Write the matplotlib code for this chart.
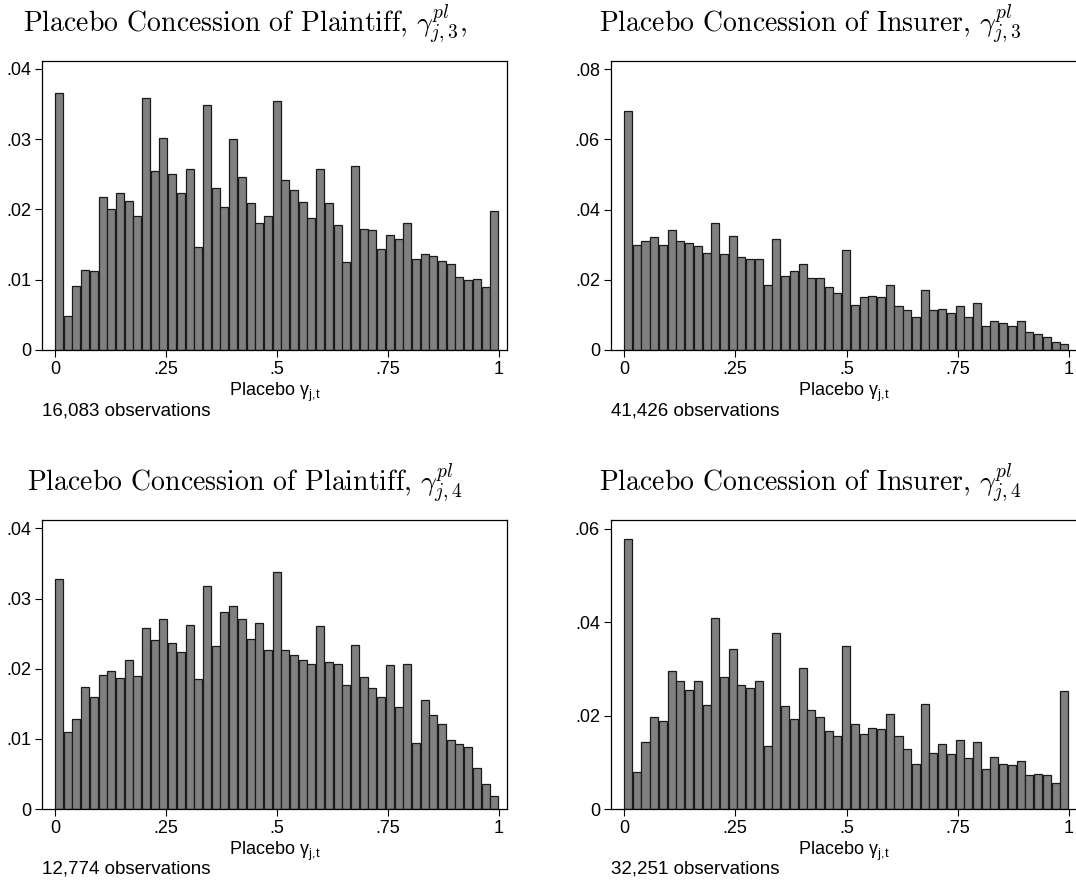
import numpy as np
import matplotlib
matplotlib.use("Agg")
import matplotlib.pyplot as plt

plt.rcParams['font.family'] = ['Liberation Sans', 'DejaVu Sans']
plt.rcParams['mathtext.fontset'] = 'cm'

# Histogram densities, 51 equal bins over [0, 1]
plaintiff_3 = [0.0365, 0.0049, 0.0091, 0.0114, 0.0113, 0.0218, 0.0200, 0.0223, 0.0212, 0.0191,
               0.0358, 0.0255, 0.0302, 0.0250, 0.0223, 0.0258, 0.0147, 0.0348, 0.0230, 0.0203,
               0.0300, 0.0246, 0.0209, 0.0180, 0.0191, 0.0354, 0.0242, 0.0227, 0.0211, 0.0188,
               0.0258, 0.0209, 0.0178, 0.0125, 0.0262, 0.0172, 0.0170, 0.0143, 0.0164, 0.0158,
               0.0181, 0.0130, 0.0137, 0.0133, 0.0127, 0.0122, 0.0104, 0.0099, 0.0101, 0.0090,
               0.0197]
insurer_3 = [0.0681, 0.0299, 0.0311, 0.0323, 0.0298, 0.0343, 0.0309, 0.0305, 0.0297, 0.0277,
             0.0362, 0.0274, 0.0326, 0.0265, 0.0260, 0.0260, 0.0184, 0.0317, 0.0211, 0.0225,
             0.0246, 0.0205, 0.0205, 0.0180, 0.0163, 0.0285, 0.0127, 0.0152, 0.0155, 0.0150,
             0.0186, 0.0124, 0.0115, 0.0095, 0.0170, 0.0113, 0.0118, 0.0106, 0.0126, 0.0094,
             0.0134, 0.0067, 0.0082, 0.0078, 0.0067, 0.0082, 0.0052, 0.0046, 0.0037, 0.0022,
             0.0016]
plaintiff_4 = [0.0328, 0.0110, 0.0129, 0.0174, 0.0160, 0.0191, 0.0197, 0.0187, 0.0213, 0.0189,
               0.0258, 0.0241, 0.0271, 0.0237, 0.0224, 0.0262, 0.0186, 0.0318, 0.0232, 0.0281,
               0.0289, 0.0271, 0.0243, 0.0265, 0.0227, 0.0338, 0.0226, 0.0220, 0.0212, 0.0207,
               0.0261, 0.0210, 0.0207, 0.0177, 0.0234, 0.0188, 0.0173, 0.0160, 0.0206, 0.0145,
               0.0207, 0.0094, 0.0156, 0.0134, 0.0121, 0.0099, 0.0093, 0.0088, 0.0059, 0.0036,
               0.0018]
insurer_4 = [0.0579, 0.0080, 0.0143, 0.0196, 0.0188, 0.0295, 0.0275, 0.0255, 0.0275, 0.0222,
             0.0409, 0.0282, 0.0342, 0.0265, 0.0260, 0.0275, 0.0135, 0.0378, 0.0220, 0.0193,
             0.0303, 0.0213, 0.0196, 0.0168, 0.0156, 0.0350, 0.0183, 0.0161, 0.0173, 0.0171,
             0.0203, 0.0156, 0.0128, 0.0096, 0.0225, 0.0120, 0.0140, 0.0118, 0.0148, 0.0109,
             0.0143, 0.0085, 0.0111, 0.0096, 0.0094, 0.0103, 0.0073, 0.0075, 0.0073, 0.0056,
             0.0253]

titles = [r"Placebo Concession of Plaintiff, $\gamma^{pl}_{j,3}$,",
          r"Placebo Concession of Insurer, $\gamma^{pl}_{j,3}$",
          r"Placebo Concession of Plaintiff, $\gamma^{pl}_{j,4}$",
          r"Placebo Concession of Insurer, $\gamma^{pl}_{j,4}$"]
notes = ["16,083 observations", "41,426 observations",
         "12,774 observations", "32,251 observations"]
yticks = [[0, .01, .02, .03, .04], [0, .02, .04, .06, .08],
          [0, .01, .02, .03, .04], [0, .02, .04, .06]]
ytops = [0.0411, 0.0823, 0.0412, 0.0619]
xticks = [0, .25, .5, .75, 1]

W, H = 1076, 883
fig = plt.figure(figsize=(W / 100, H / 100), dpi=100)

# panel boxes in pixels: left, top, right, bottom
boxes = [(42, 61, 507, 350), (611, 61, 1077, 350),
         (42, 520, 507, 809), (611, 520, 1077, 809)]
title_cx = [245, 810, 245, 810]

def fmt(v):
    s = ("%g" % v)
    return s[1:] if s.startswith("0.") else s

series = [plaintiff_3, insurer_3, plaintiff_4, insurer_4]
nb = len(plaintiff_3)
edges = np.linspace(0, 1, nb + 1)
bw = 1 / nb

for i, vals in enumerate(series):
    l, t, r, b = boxes[i]
    ax = fig.add_axes([l / W, 1 - b / H, (r - l) / W, (b - t) / H])
    ax.bar(edges[:-1], vals, width=bw * 0.92, align='edge', color='#808080',
           edgecolor='#1a1a1a', linewidth=0.9)
    ax.set_xlim(-13 / 444, 1 + 8 / 444)
    ax.set_ylim(0, ytops[i])
    ax.set_xticks(xticks)
    ax.set_xticklabels([fmt(v) for v in xticks])
    ax.set_yticks(yticks[i])
    ax.set_yticklabels([fmt(v) for v in yticks[i]])
    ax.tick_params(direction='out', length=5, width=0.8, labelsize=13, pad=3,
                   colors='black')
    for sp in ax.spines.values():
        sp.set_linewidth(0.9)
    ax.set_xlabel("Placebo γ$_{\\mathregular{j{,}t}}$", fontsize=13, labelpad=2)
    fig.text(l / W, 1 - (b + 65) / H, notes[i], fontsize=13.5, va='baseline', ha='left')
    fig.text(title_cx[i] / W, 1 - (t - 29) / H, titles[i], fontsize=20,
             family='cmr10', va='baseline', ha='center')

fig.savefig("out.png", dpi=100)
